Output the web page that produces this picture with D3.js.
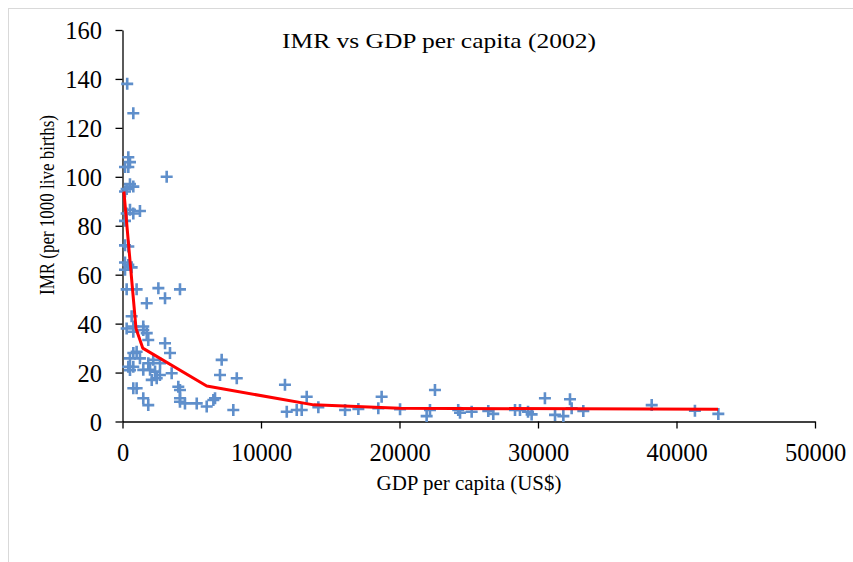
<!DOCTYPE html>
<html>
<head>
<meta charset="utf-8">
<script src="https://cdn.jsdelivr.net/npm/d3@7"></script>
<style>
  body { margin: 0; background: #fff; }
  text { font-family: "Liberation Serif", "Times New Roman", serif; fill: #000; }
</style>
</head>
<body>
<div id="chart"></div>
<script>
// GDP per capita (US$) for each country
const gdp = [340, 780, 420, 540, 180, 420, 3190, 300, 780, 180,
  540, 540, 300, 780, 1260, 180, 180, 420, 180, 420,
  660, 180, 300, 1020, 2590, 4150, 3070, 1750, 660, 1500,
  780, 300, 780, 1500, 1750, 1860, 3070, 3430, 1020, 780,
  540, 1260, 2220, 1860, 2710, 420, 780, 1500, 1990, 2350,
  540, 3550, 7160, 7040, 8250, 11730, 780, 1020, 2110, 2470,
  2700, 4030, 4150, 1500, 1860, 4150, 4150, 4510, 5360, 6080,
  6560, 6680, 8000, 11860, 12580, 12940, 13300, 14140, 16070, 17030,
  18470, 18710, 20040, 21960, 22200, 22560, 24240, 24370, 25210, 26410,
  26770, 28340, 28700, 29280, 29540, 30500, 31230, 31830, 32310, 32430,
  33270, 38210, 41330, 43020];

// infant mortality rate (per 1000 live births), same order
const imr = [138, 126, 108, 106, 104, 104, 100, 95, 96, 94,
  97, 86.5, 85, 85, 86, 82, 72, 71.5, 65, 64,
  63, 62, 54, 54, 54.5, 54, 50.4, 48.3, 43, 38.8,
  38.8, 38, 36.7, 37.4, 36.1, 33.3, 32, 28, 28.5, 28,
  25.8, 25.8, 25.2, 23.8, 23.8, 22.4, 22.4, 21.1, 21.1, 20.4,
  21, 19.7, 25.2, 19, 17.7, 15, 13.6, 13.6, 17, 17.7,
  19, 14.2, 12.9, 9.5, 6.7, 9.5, 8.1, 7.4, 7.4, 6.1,
  8.8, 9.5, 4.7, 4, 4.7, 4.7, 10.1, 5.8, 4.7, 5.1,
  5.4, 10.1, 5, 2.2, 4.7, 12.9, 4.7, 3.6, 4, 4.3,
  3.1, 4.7, 4.7, 4, 2.9, 9.5, 2.7, 2.2, 9.1, 5.4,
  4.3, 6.7, 4.4, 3.1];

// trend line vertices
const trendX = [100, 975, 1460, 6080, 13800, 20000, 43000];
const trendY = [94, 38, 30, 14.5, 6.8, 5.4, 5.0];

const xTicks = [0, 10000, 20000, 30000, 40000, 50000];
const yTicks = [0, 20, 40, 60, 80, 100, 120, 140, 160];

const width = 853, height = 562;

const svg = d3.select('#chart')
    .append('svg')
    .attr('width', width)
    .attr('height', height);

// outer chart frame
svg.append('rect')
    .attr('x', 8.5).attr('y', 8.5)
    .attr('width', 900).attr('height', 600)
    .attr('fill', 'none')
    .attr('stroke', '#d9d9d9')
    .attr('stroke-width', 1);

const x = d3.scaleLinear().domain([0, 50000]).range([122.5, 815]);
const y = d3.scaleLinear().domain([0, 160]).range([421.5, 30]);

// x axis
const gx = svg.append('g')
    .attr('transform', `translate(0,${y(0)})`)
    .call(d3.axisBottom(x).tickValues(xTicks).tickSize(7).tickSizeOuter(0).tickFormat(d3.format('d')));
gx.selectAll('text')
    .attr('y', 39.5).attr('dy', null)
    .style('font-size', '24.5px');

// y axis
const gy = svg.append('g')
    .attr('transform', `translate(${x(0)},0)`)
    .call(d3.axisLeft(y).tickValues(yTicks).tickSize(7).tickSizeOuter(0));
gy.selectAll('text')
    .attr('x', -20.5).attr('dy', '8.5')
    .style('font-size', '24.5px');

svg.selectAll('.domain, .tick line')
    .attr('stroke', '#000')
    .attr('stroke-width', 1.3);
svg.selectAll('.tick text').attr('fill', '#000').style('font-family', '"Liberation Serif", serif');

// scatter markers
const pts = gdp.map((g, i) => [g, imr[i]]);
svg.append('g')
    .selectAll('path')
    .data(pts)
    .enter()
    .append('path')
    .attr('transform', d => `translate(${x(d[0])},${y(d[1])})`)
    .attr('d', 'M-6,0H6M0,-6V6')
    .attr('stroke', '#5f8fcb')
    .attr('stroke-width', 2.6)
    .attr('fill', 'none');

// trend line
const line = d3.line().x(d => x(d[0])).y(d => y(d[1]));
svg.append('path')
    .datum(trendX.map((t, i) => [t, trendY[i]]))
    .attr('d', line)
    .attr('fill', 'none')
    .attr('stroke', '#ff0000')
    .attr('stroke-width', 3)
    .attr('stroke-linejoin', 'round');

// titles
svg.append('text')
    .attr('x', 439).attr('y', 48)
    .attr('text-anchor', 'middle')
    .attr('textLength', 314)
    .attr('lengthAdjust', 'spacingAndGlyphs')
    .style('font-size', '22px')
    .text('IMR vs GDP per capita (2002)');

svg.append('text')
    .attr('x', 469).attr('y', 490)
    .attr('text-anchor', 'middle')
    .attr('textLength', 185)
    .attr('lengthAdjust', 'spacingAndGlyphs')
    .style('font-size', '20.5px')
    .text('GDP per capita (US$)');

svg.append('text')
    .attr('transform', 'translate(54,205) rotate(-90)')
    .attr('text-anchor', 'middle')
    .attr('textLength', 180)
    .attr('lengthAdjust', 'spacingAndGlyphs')
    .style('font-size', '20px')
    .text('IMR (per 1000 live births)');
</script>
</body>
</html>
